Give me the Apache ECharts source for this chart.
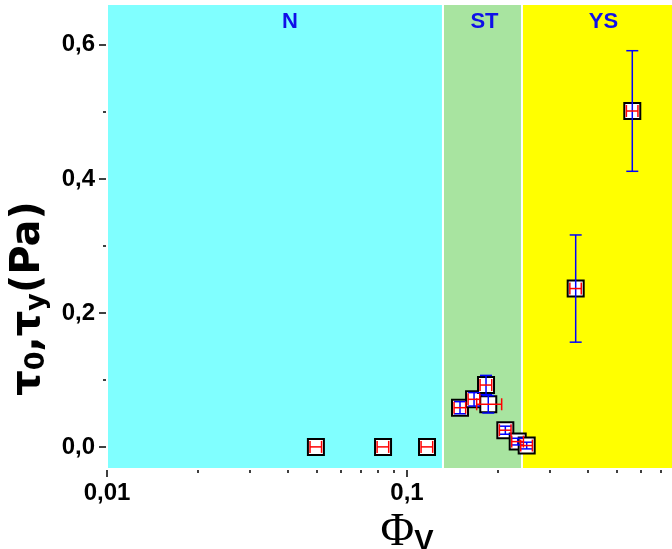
<!DOCTYPE html>
<html><head><meta charset="utf-8">
<script src="https://cdn.jsdelivr.net/npm/echarts@6/dist/echarts.min.js"></script>
<style>html,body{margin:0;padding:0;background:#fff}#c{width:672px;height:549px}</style>
</head><body><div id="c"></div>
<script>
// ---- data ----
const phiV     = [0.0497, 0.0832, 0.1166, 0.1502, 0.1673, 0.1834, 0.1866, 0.2127, 0.2339, 0.2506, 0.3650, 0.5636];
const tau      = [0.000, 0.000, 0.000, 0.0585, 0.0710, 0.0923, 0.0636, 0.0249, 0.0079, 0.0020, 0.2363, 0.5013];
const tauErr   = [0, 0, 0, 0.009, 0.010, 0.0144, 0.013, 0.006, 0.005, 0.005, 0.080, 0.090];
const phiErrLo = [0.0022, 0.0037, 0.0052, 0.0067, 0.0075, 0.0082, 0.0159, 0.0095, 0.0105, 0.0112, 0.0160, 0.0250];
const phiErrHi = [0.0022, 0.0037, 0.0052, 0.0067, 0.0075, 0.0082, 0.0202, 0.0095, 0.0105, 0.0112, 0.0160, 0.0250];
const regionEdges = [0.01, 0.1318, 0.2417, 1];
const regionNames = ['N', 'ST', 'YS'];
const xRange = [0.01, 1];
const yRange = [-0.033, 0.661];
const xMajorTicks = [0.01, 0.1];
const xMinorTicks = [0.02,0.03,0.04,0.05,0.06,0.07,0.08,0.09,0.2,0.3,0.4,0.5,0.6,0.7,0.8,0.9];
const yMajorTicks = [0, 0.2, 0.4, 0.6];
const yMinorTicks = [0.1, 0.3, 0.5];

// ---- styles ----
const regionColors = ['#80ffff', '#a8e4a0', '#ffff00'];
const regionOffsets = [[15, 0], [2, 0], [-11, 0]];
const SANS = 'Liberation Sans, Arial, sans-serif';
const WIDE = 'DejaVu Sans, Verdana, sans-serif';
const SERIF = 'Liberation Serif, Times New Roman, serif';

const chart = echarts.init(document.getElementById('c'));
const pts = phiV.map((x, i) => [x, tau[i]]);
const yErrData = phiV.map((x, i) => [x, tau[i], tauErr[i]]);
const xErrData = phiV.map((x, i) => [x, tau[i], phiErrLo[i], phiErrHi[i]]);

const bandData = regionNames.map((n, i) => [
  { xAxis: regionEdges[i], name: n, itemStyle: { color: regionColors[i] },
    label: { offset: regionOffsets[i] } },
  { xAxis: regionEdges[i + 1] }
]);

const fmtComma = (v, d) => v.toFixed(d).replace('.', ',');

chart.setOption({
  animation: false,
  backgroundColor: '#fff',
  grid: { left: 107, right: -35, top: 4, bottom: 80, containLabel: false, outerBoundsMode: 'none' },
  xAxis: [
    {
      type: 'log', logBase: 10, min: xRange[0], max: xRange[1], position: 'bottom',
      axisLine: { onZero: false, lineStyle: { color: '#000', width: 2 } },
      axisTick: { customValues: xMajorTicks, length: 8, lineStyle: { color: '#000', width: 1.5 } },
      axisLabel: { customValues: xMajorTicks, margin: 12, color: '#000', fontFamily: SANS, fontWeight: 'bold', fontSize: 24,
        formatter: v => (v < 0.05 ? fmtComma(v, 2) : fmtComma(v, 1)) },
      splitLine: { show: false },
      name: '{p|Φ}{v|V}', nameLocation: 'middle', nameGap: 33,
      nameTextStyle: { rich: {
        p: { fontFamily: SERIF, fontSize: 46, color: '#000', lineHeight: 48 },
        v: { fontFamily: SANS, fontWeight: 'bold', fontSize: 29, color: '#000', lineHeight: 48, verticalAlign: 'bottom' }
      } }
    },
    {
      type: 'log', logBase: 10, min: xRange[0], max: xRange[1], position: 'bottom',
      axisLine: { show: false, onZero: false },
      axisTick: { customValues: xMinorTicks, length: 4, lineStyle: { color: '#000', width: 1.5 } },
      axisLabel: { show: false }, splitLine: { show: false }
    },
    {
      type: 'log', logBase: 10, min: xRange[0], max: xRange[1], position: 'top',
      axisLine: { onZero: false, lineStyle: { color: '#000', width: 2 } },
      axisTick: { show: false }, axisLabel: { show: false }, splitLine: { show: false }
    }
  ],
  yAxis: [
    {
      type: 'value', min: yRange[0], max: yRange[1], position: 'left',
      axisLine: { show: true, onZero: false, lineStyle: { color: '#000', width: 2 } },
      axisTick: { customValues: yMajorTicks, length: 8, lineStyle: { color: '#000', width: 1.5 } },
      axisLabel: { customValues: yMajorTicks, margin: 12, color: '#000', fontFamily: SANS, fontWeight: 'bold', fontSize: 24,
        formatter: v => fmtComma(v, 1) },
      splitLine: { show: false },
      name: '{t|τ}{s|0}{t|,τ}{s|y}{t|(Pa)}', nameLocation: 'middle', nameRotate: 90, nameGap: 45,
      nameTextStyle: { padding: [0, 124, 0, 0], rich: {
        t: { fontFamily: WIDE, fontWeight: 'bold', fontSize: 40, color: '#000', lineHeight: 44 },
        s: { fontFamily: WIDE, fontWeight: 'bold', fontSize: 27, color: '#000', lineHeight: 44, verticalAlign: 'bottom' }
      } }
    },
    {
      type: 'value', min: yRange[0], max: yRange[1], position: 'left',
      axisLine: { show: false, onZero: false },
      axisTick: { customValues: yMinorTicks, length: 4, lineStyle: { color: '#000', width: 1.5 } },
      axisLabel: { show: false }, splitLine: { show: false }
    }
  ],
  series: [
    {
      type: 'scatter', data: [], z: 1, silent: true,
      markArea: {
        silent: true,
        itemStyle: { borderColor: '#fff', borderWidth: 2 },
        label: { show: true, position: 'insideTop', distance: 8, color: '#1010e8',
          fontFamily: SANS, fontWeight: 'bold', fontSize: 22 },
        data: bandData
      }
    },
    {
      type: 'scatter', data: pts, z: 3, symbol: 'rect', symbolSize: 16,
      itemStyle: { color: '#fff', borderColor: '#000', borderWidth: 2, opacity: 1 }
    },
    {
      type: 'custom', data: yErrData, z: 4, encode: { x: 0, y: 1 },
      renderItem: (params, api) => {
        const x = api.value(0), y = api.value(1), e = api.value(2);
        if (!e) return { type: 'group', children: [] };
        const a = api.coord([x, y + e]), b = api.coord([x, y - e]);
        const st = { stroke: '#0000ff', lineWidth: 1.5 };
        return { type: 'group', children: [
          { type: 'line', shape: { x1: a[0], y1: a[1], x2: b[0], y2: b[1] }, style: st },
          { type: 'line', shape: { x1: a[0] - 6, y1: a[1], x2: a[0] + 6, y2: a[1] }, style: st },
          { type: 'line', shape: { x1: b[0] - 6, y1: b[1], x2: b[0] + 6, y2: b[1] }, style: st }
        ] };
      }
    },
    {
      type: 'custom', data: xErrData, z: 5, encode: { x: 0, y: 1 },
      renderItem: (params, api) => {
        const x = api.value(0), y = api.value(1), lo = api.value(2), hi = api.value(3);
        const a = api.coord([x - lo, y]), b = api.coord([x + hi, y]);
        const st = { stroke: '#ff0000', lineWidth: 1.5 };
        return { type: 'group', children: [
          { type: 'line', shape: { x1: a[0], y1: a[1], x2: b[0], y2: b[1] }, style: st },
          { type: 'line', shape: { x1: a[0], y1: a[1] - 6, x2: a[0], y2: a[1] + 6 }, style: st },
          { type: 'line', shape: { x1: b[0], y1: b[1] - 6, x2: b[0], y2: b[1] + 6 }, style: st }
        ] };
      }
    }
  ]
});
</script>
</body></html>
